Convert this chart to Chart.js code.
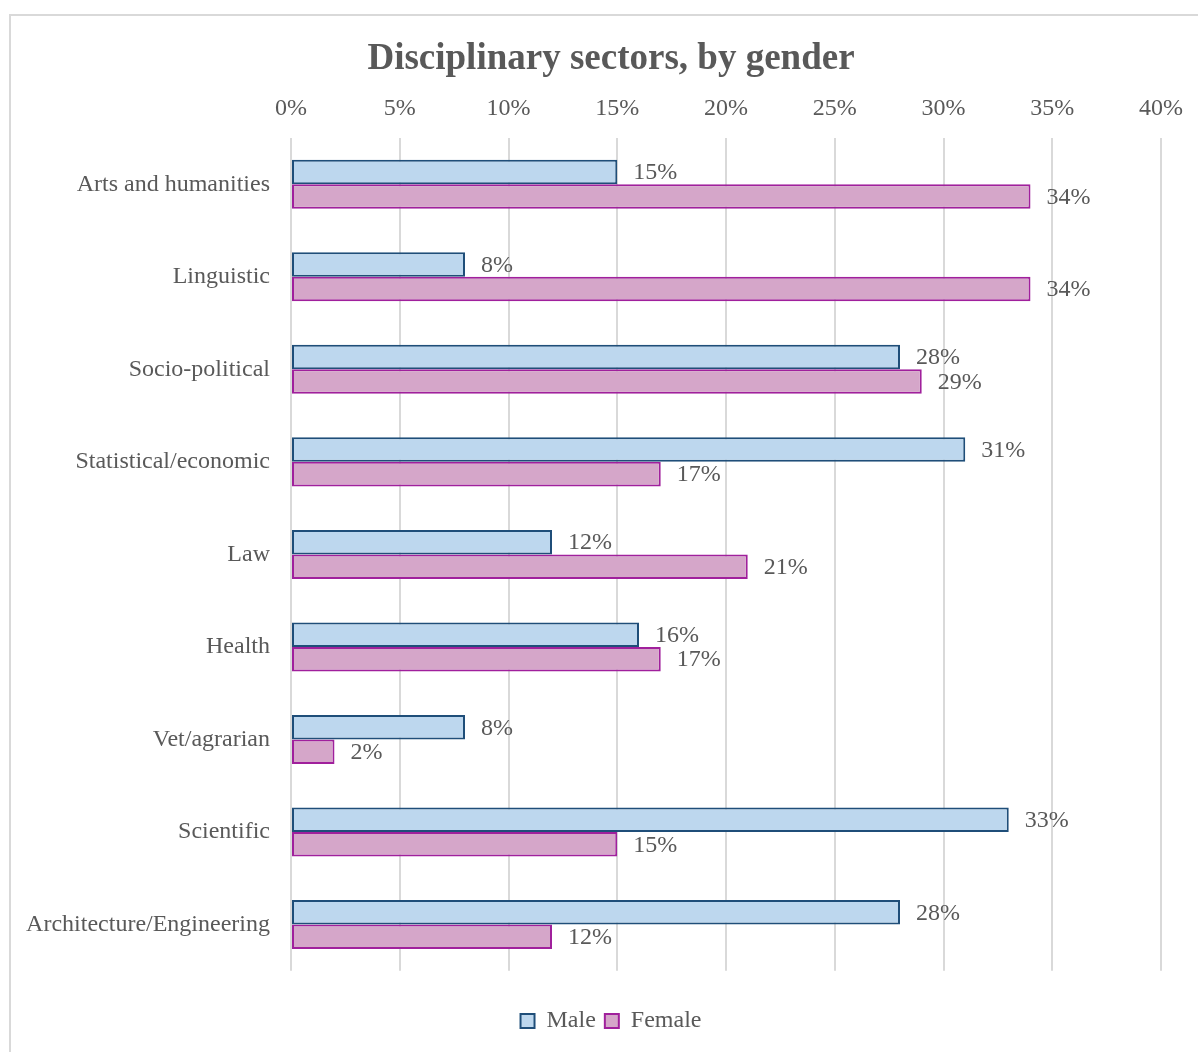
<!DOCTYPE html>
<html>
<head>
<meta charset="utf-8">
<script src="https://cdn.jsdelivr.net/npm/chart.js@4/dist/chart.umd.min.js"></script>
<style>
  html, body { margin: 0; padding: 0; background: #fff; overflow: hidden; width: 1198px; height: 1052px; }
  #frame { position: absolute; left: 9px; top: 14px; width: 1300px; height: 1200px; border: 2px solid #d9d9d9; box-sizing: border-box; }
  #wrap { position: absolute; left: 9px; top: 14px; width: 1204px; height: 1038px; }
</style>
</head>
<body>
<div id="frame"></div>
<div id="wrap"><canvas id="c" width="1204" height="1038"></canvas></div>
<script>
const categories = ["Arts and humanities", "Linguistic", "Socio-political", "Statistical/economic", "Law", "Health", "Vet/agrarian", "Scientific", "Architecture/Engineering"];
const maleValues = [15, 8, 28, 31, 12, 16, 8, 33, 28];
const femaleValues = [34, 34, 29, 17, 21, 17, 2, 15, 12];
const seriesNames = ["Male", "Female"];
const chartTitle = "Disciplinary sectors, by gender";

const FONT = "'Liberation Serif', 'Times New Roman', serif";
const GREY = "#595959";

const dataLabels = {
  id: 'dataLabels',
  afterDatasetsDraw(chart) {
    const ctx = chart.ctx;
    ctx.save();
    ctx.font = "24px " + FONT;
    ctx.fillStyle = GREY;
    ctx.textAlign = 'left';
    ctx.textBaseline = 'middle';
    chart.data.datasets.forEach((ds, di) => {
      const meta = chart.getDatasetMeta(di);
      meta.data.forEach((bar, i) => {
        ctx.fillText(ds.data[i] + '%', bar.x + 16, bar.y + 1);
      });
    });
    ctx.restore();
  }
};

new Chart(document.getElementById('c'), {
  type: 'bar',
  data: {
    labels: categories,
    datasets: [
      { label: seriesNames[0], data: maleValues, backgroundColor: '#BDD7EE', borderColor: '#1F4E79', borderWidth: 2, borderSkipped: false },
      { label: seriesNames[1], data: femaleValues, backgroundColor: '#D5A6C9', borderColor: '#A0209C', borderWidth: 2, borderSkipped: false }
    ]
  },
  options: {
    indexAxis: 'y',
    responsive: false,
    animation: false,
    devicePixelRatio: 1,
    layout: { padding: { left: 0, right: 0, top: 0, bottom: 9 } },
    datasets: { bar: { categoryPercentage: 0.53, barPercentage: 1.0 } },
    scales: {
      x: {
        position: 'top',
        min: 0, max: 40,
        ticks: { stepSize: 5, padding: 14.6, color: GREY, font: { family: FONT, size: 24 }, callback: v => v + '%' },
        grid: { color: '#d9d9d9', lineWidth: 2, drawTicks: false },
        border: { display: false },
        afterFit: s => { s.height = 56.8; }
      },
      y: {
        ticks: { padding: 13, color: GREY, font: { family: FONT, size: 24 } },
        grid: { display: false },
        border: { display: false },
        afterFit: s => { s.width = 282; }
      },
      spacer: {
        type: 'linear',
        position: 'right',
        display: true,
        ticks: { display: false },
        grid: { display: false, drawTicks: false },
        border: { display: false },
        afterFit: s => { s.width = 52; }
      }
    },
    plugins: {
      title: {
        display: true, text: chartTitle, color: GREY,
        font: { family: FONT, size: 37, weight: 'bold' },
        padding: { top: 22.8, bottom: 0 }
      },
      legend: {
        position: 'bottom',
        title: { display: true, text: '', font: { size: 1 }, padding: { top: 28, bottom: 0 } },
        labels: { color: GREY, font: { family: FONT, size: 24 }, boxWidth: 14, boxHeight: 14, padding: 9 }
      },
      tooltip: { enabled: false }
    }
  },
  plugins: [dataLabels]
});
</script>
</body>
</html>
